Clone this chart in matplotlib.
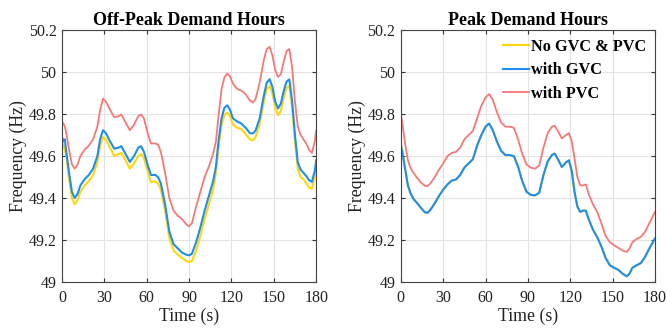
import matplotlib
matplotlib.use('Agg')
import matplotlib.pyplot as plt

plt.rcParams['font.family'] = ['Liberation Serif', 'DejaVu Serif']

# ---- Off-peak demand hours ----
t_off = [0, 1, 2, 3, 5, 7, 9, 11, 13, 16, 19, 22, 25, 27, 29, 31, 34, 37, 40, 42,
         45, 48, 51, 54, 56, 58, 61, 63, 66, 68, 70, 73, 76, 79, 82, 85, 88, 90, 92,
         95, 98, 101, 104, 107, 109, 111, 113, 115, 117, 119, 121, 124, 127, 130,
         133, 135, 137, 140, 143, 145, 147, 149, 151, 153, 155, 157, 159, 161, 163,
         165, 167, 169, 171, 173, 175, 177, 179, 180]
off_pvc = [49.763, 49.755, 49.74, 49.71, 49.63, 49.56, 49.54, 49.56, 49.60, 49.63,
           49.65, 49.68, 49.74, 49.82, 49.874, 49.86, 49.82, 49.785, 49.79, 49.798,
           49.76, 49.723, 49.75, 49.79, 49.798, 49.78, 49.70, 49.66, 49.66, 49.655,
           49.62, 49.52, 49.40, 49.34, 49.315, 49.30, 49.275, 49.265, 49.28, 49.36,
           49.43, 49.50, 49.55, 49.61, 49.67, 49.80, 49.92, 49.975, 49.993, 49.98,
           49.946, 49.92, 49.912, 49.895, 49.865, 49.855, 49.87, 49.95, 50.06, 50.11,
           50.12, 50.08, 50.01, 49.977, 49.99, 50.05, 50.10, 50.11, 50.02, 49.86,
           49.74, 49.70, 49.68, 49.66, 49.63, 49.615, 49.67, 49.723]
off_gvc = [49.69, 49.67, 49.68, 49.62, 49.52, 49.43, 49.40, 49.42, 49.46, 49.49,
           49.51, 49.54, 49.60, 49.68, 49.723, 49.71, 49.67, 49.635, 49.64, 49.647,
           49.61, 49.572, 49.60, 49.64, 49.647, 49.62, 49.55, 49.51, 49.51, 49.50,
           49.47, 49.37, 49.24, 49.18, 49.16, 49.14, 49.13, 49.127, 49.135, 49.19,
           49.26, 49.34, 49.41, 49.48, 49.55, 49.68, 49.78, 49.83, 49.842, 49.82,
           49.78, 49.765, 49.755, 49.735, 49.71, 49.707, 49.72, 49.78, 49.89, 49.95,
           49.966, 49.93, 49.86, 49.827, 49.85, 49.91, 49.955, 49.965, 49.86, 49.70,
           49.57, 49.535, 49.52, 49.505, 49.485, 49.477, 49.53, 49.58]
off_none = [49.667, 49.65, 49.63, 49.60, 49.49, 49.40, 49.37, 49.39, 49.43, 49.46,
            49.48, 49.51, 49.57, 49.65, 49.69, 49.68, 49.64, 49.60, 49.61, 49.615,
            49.58, 49.54, 49.565, 49.60, 49.61, 49.59, 49.52, 49.475, 49.48, 49.47,
            49.44, 49.34, 49.21, 49.15, 49.13, 49.115, 49.10, 49.095, 49.10, 49.15,
            49.22, 49.30, 49.37, 49.44, 49.52, 49.65, 49.75, 49.795, 49.807, 49.79,
            49.75, 49.735, 49.728, 49.705, 49.68, 49.675, 49.69, 49.75, 49.86, 49.92,
            49.933, 49.90, 49.83, 49.795, 49.815, 49.875, 49.925, 49.933, 49.83, 49.67,
            49.54, 49.50, 49.49, 49.47, 49.45, 49.445, 49.50, 49.53]

# ---- Peak demand hours ----
t_peak = [0, 1, 3, 5, 7, 9, 11, 14, 17, 19, 21, 24, 27, 30, 33, 36, 39, 42, 45, 48,
          51, 54, 57, 60, 62.5, 65, 68, 71, 74, 77, 80, 83, 86, 89, 92, 95, 98, 101,
          104, 107, 109, 112, 114, 117, 119, 121, 123, 125, 127, 129, 131, 133, 136,
          139, 142, 145, 148, 151, 154, 157, 160, 162, 164, 167, 170, 173, 176, 180]
peak_pvc = [49.795, 49.76, 49.66, 49.58, 49.54, 49.52, 49.50, 49.475, 49.458, 49.457,
            49.47, 49.50, 49.535, 49.565, 49.60, 49.615, 49.62, 49.64, 49.68, 49.70,
            49.72, 49.78, 49.84, 49.88, 49.895, 49.87, 49.81, 49.76, 49.74, 49.74,
            49.735, 49.68, 49.61, 49.56, 49.545, 49.54, 49.555, 49.64, 49.71, 49.74,
            49.744, 49.71, 49.684, 49.70, 49.71, 49.67, 49.59, 49.50, 49.461, 49.46,
            49.465, 49.42, 49.37, 49.335, 49.28, 49.22, 49.19, 49.175, 49.163, 49.15,
            49.143, 49.16, 49.19, 49.205, 49.215, 49.24, 49.28, 49.334]
peak_gvc = [49.652, 49.62, 49.54, 49.46, 49.42, 49.395, 49.38, 49.355, 49.332, 49.33,
            49.345, 49.375, 49.41, 49.44, 49.465, 49.483, 49.488, 49.51, 49.545, 49.565,
            49.585, 49.65, 49.70, 49.74, 49.755, 49.725, 49.67, 49.625, 49.605, 49.605,
            49.60, 49.55, 49.48, 49.43, 49.415, 49.413, 49.425, 49.51, 49.575, 49.605,
            49.612, 49.575, 49.548, 49.57, 49.58, 49.53, 49.43, 49.36, 49.334, 49.34,
            49.34, 49.30, 49.25, 49.215, 49.17, 49.115, 49.08, 49.068, 49.058, 49.04,
            49.027, 49.04, 49.068, 49.08, 49.09, 49.12, 49.16, 49.207]
# the no-control curve lies under the GVC curve in this panel
peak_none = list(peak_gvc)

YELLOW = '#FFD60A'
BLUE = '#1E8FF0'
RED = '#F47A78'

fig = plt.figure(figsize=(6.67, 3.31), dpi=100)
ax1 = fig.add_axes([0.093, 0.148, 0.381, 0.761])
ax2 = fig.add_axes([0.601, 0.148, 0.381, 0.761])

panels = [
    (ax1, t_off, off_none, off_gvc, off_pvc, 'Off-Peak Demand Hours'),
    (ax2, t_peak, peak_none, peak_gvc, peak_pvc, 'Peak Demand Hours'),
]

for ax, t, none, gvc, pvc, title in panels:
    ax.plot(t, none, color=YELLOW, lw=1.5, label='No GVC & PVC')
    ax.plot(t, gvc, color=BLUE, lw=1.5, label='with GVC')
    ax.plot(t, pvc, color=RED, lw=1.3, label='with PVC')
    ax.set_xlim(0, 180)
    ax.set_ylim(49, 50.2)
    ax.set_xticks(range(0, 181, 30))
    ax.set_yticks([49, 49.2, 49.4, 49.6, 49.8, 50, 50.2])
    ax.set_yticklabels(['49', '49.2', '49.4', '49.6', '49.8', '50', '50.2'])
    ax.grid(True, color='#e3e3e3', lw=0.8)
    ax.set_axisbelow(True)
    ax.tick_params(direction='in', top=True, right=True, labelsize=11.5,
                   length=3, color='#333333', labelcolor='#222222')
    ax.tick_params(axis='x', pad=6)
    ax.tick_params(axis='y', pad=4)
    for sp in ax.spines.values():
        sp.set_color('#444444')
        sp.set_linewidth(0.8)
    ax.set_xlabel('Time (s)', fontsize=12.8, color='#222222', labelpad=1)
    ax.set_ylabel('Frequency (Hz)', fontsize=12.8, color='#222222', labelpad=1)
    ax.set_title(title, fontsize=13, fontweight='bold', pad=4)

ax2.legend(loc='upper right', frameon=False, prop={'weight': 'bold', 'size': 11.7},
           handlelength=1.6, handletextpad=0.1, labelspacing=0.45,
           borderaxespad=0.15)

fig.savefig('out.png', dpi=100)
